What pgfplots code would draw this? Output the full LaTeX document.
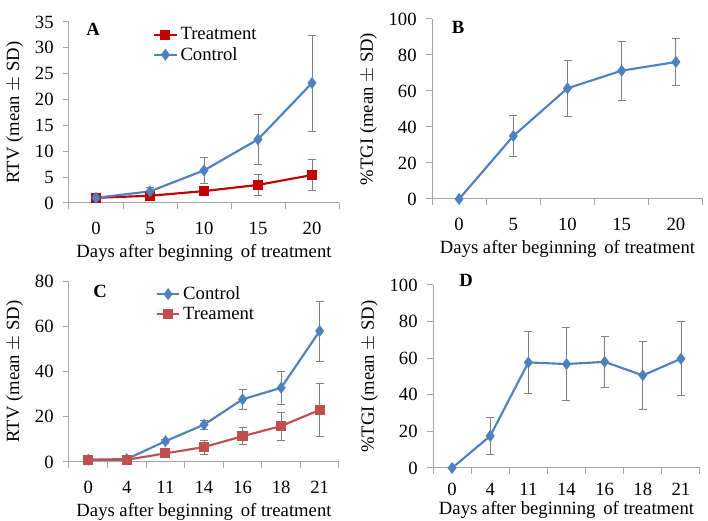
\documentclass[border=0pt]{standalone}
\usepackage{fontspec}
\setmainfont{Liberation Serif}
\newfontfamily\tnr{Liberation Serif}
\usepackage{pgfplots}
\pgfplotsset{compat=1.18}
\definecolor{cblue}{HTML}{4F81BD}
\definecolor{cred}{HTML}{C00000}
\definecolor{cred2}{HTML}{C0504D}
\definecolor{axgray}{HTML}{A6A6A6}
\definecolor{ebgray}{HTML}{7F7F7F}
\newcommand\fs{\tnr\fontsize{14}{16}\selectfont}
\pgfplotsset{
  panel/.style={
    scale only axis, anchor=south west, clip=false,
    axis lines*=left,
    axis line style={draw=axgray, line width=0.75pt},
    tick align=outside,
    major tick length=4.5pt, minor tick length=4.5pt,
    every tick/.style={draw=axgray, line width=0.75pt},
    every major x tick/.append style={draw=none},
    xtick=data,
    /pgf/number format/assume math mode=true,
    tick label style={font=\fs},
    xticklabel style={yshift=-6.5pt},
    yticklabel style={xshift=-3.5pt},
    label style={font=\fs},
    ylabel style={yshift=2pt},
    xlabel={Days after beginning\, of treatment},
    ymin=0,
    legend cell align=left,
    legend style={draw=none, fill=none, font=\fs, row sep=0pt, inner sep=0pt},
  },
  ebar/.style={error bars/.cd, y dir=both, y explicit,
    error bar style={ebgray, line width=0.6pt},
    error mark options={rotate=90, ebgray, mark size=3pt, line width=0.6pt}},
  bluel/.style={cblue, line width=1.6pt, mark=diamond*, mark size=3.2pt, mark options={solid, fill=cblue}},
}
\begin{document}
\begin{tikzpicture}
\useasboundingbox (0,0) rectangle (531pt,390.75pt);
% Panel A
\begin{axis}[panel, at={(51.75pt,238.5pt)}, width=202.5pt, height=135.75pt,
  xmin=-0.5, xmax=4.5, ymax=35, ytick={0,5,...,35},
  xticklabels={0,5,10,15,20}, minor xtick={-0.5,0.5,...,4.5},
  ylabel={RTV (mean $\pm$ SD)},
  legend style={at={(0.31,0.985)}, anchor=north west}]
\addplot[cred, line width=1.6pt, mark=square*, mark size=3pt, mark options={solid, fill=cred}, ebar]
  table[x=x, y=y, y error=e] {
x y e
0 1.0 0.1
1 1.4 0.3
2 2.3 0.6
3 3.5 2.0
4 5.4 3.0
};
\addlegendentry{Treatment}
\addplot[bluel, ebar]
  table[x=x, y=y, y error=e] {
x y e
0 1.0 0.1
1 2.25 0.85
2 6.3 2.5
3 12.3 4.8
4 23.2 9.3
};
\addlegendentry{Control}
\node[font=\fs\bfseries] at (rel axis cs:0.089,0.96) {A};
\end{axis}
% Panel B
\begin{axis}[panel, at={(324pt,241.5pt)}, width=203.25pt, height=135pt,
  xmin=-0.5, xmax=4.5, ymax=100, ytick={0,20,...,100},
  xticklabels={0,5,10,15,20}, minor xtick={-0.5,0.5,...,4.5},
  ylabel={\%TGI (mean $\pm$ SD)}]
\addplot[bluel, ebar]
  table[x=x, y=y, y error=e] {
x y e
0 0 0
1 35.0 11.6
2 61.5 15.7
3 71.3 16.3
4 76.1 13.2
};
\node[font=\fs\bfseries] at (rel axis cs:0.096,0.956) {B};
\end{axis}
% Panel C
\begin{axis}[panel, at={(51.75pt,44.25pt)}, width=202.5pt, height=135.75pt,
  xmin=-0.5, xmax=6.5, ymax=80, ytick={0,20,...,80},
  xticklabels={0,4,11,14,16,18,21}, minor xtick={-0.5,0.5,...,6.5},
  ylabel={RTV (mean $\pm$ SD)},
  legend style={at={(0.32,0.985)}, anchor=north west}]
\addplot[bluel, ebar]
  table[x=x, y=y, y error=e] {
x y e
0 1.0 0.2
1 1.3 0.6
2 9.2 0.8
3 16.5 2.1
4 27.7 4.4
5 32.8 7.2
6 57.9 13.3
};
\addlegendentry{Control}
\addplot[cred2, line width=1.6pt, mark=square*, mark size=3pt, mark options={solid, fill=cred2}, ebar]
  table[x=x, y=y, y error=e] {
x y e
0 1.0 0.2
1 1.0 0.3
2 3.8 1.0
3 6.6 3.1
4 11.4 3.7
5 15.9 6.2
6 23.0 11.7
};
\addlegendentry{Treament}
\node[font=\fs\bfseries] at (rel axis cs:0.115,0.94) {C};
\end{axis}
% Panel D
\begin{axis}[panel, at={(324.75pt,39.75pt)}, width=200.25pt, height=137.25pt,
  xmin=-0.5, xmax=6.5, ymax=100, ytick={0,20,...,100},
  xticklabels={0,4,11,14,16,18,21}, minor xtick={-0.5,0.5,...,6.5},
  xticklabel style={yshift=3pt}, xlabel style={yshift=2.5pt},
  ylabel={\%TGI (mean $\pm$ SD)}]
\addplot[bluel, ebar]
  table[x=x, y=y, y error=e] {
x y e
0 0 0
1 17.5 10.0
2 57.7 17.2
3 56.8 19.8
4 58.0 14.0
5 50.6 18.4
6 59.7 20.3
};
\node[font=\fs\bfseries] at (rel axis cs:0.124,1.027) {D};
\end{axis}
\end{tikzpicture}
\end{document}
